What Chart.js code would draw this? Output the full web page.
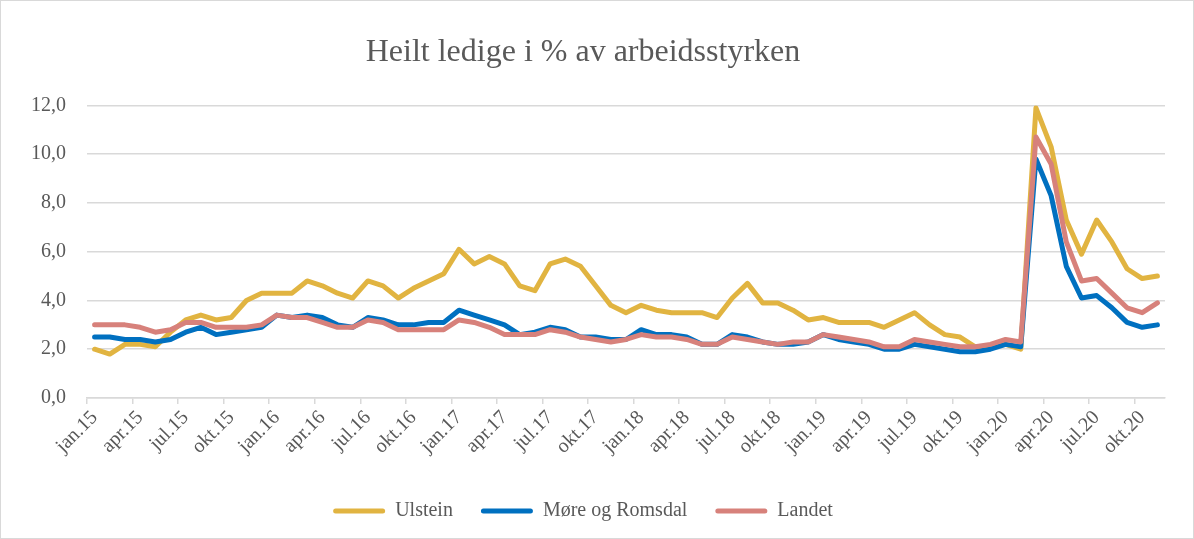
<!DOCTYPE html>
<html>
<head>
<meta charset="utf-8">
<script src="https://cdn.jsdelivr.net/npm/chart.js@4"></script>
<style>
    body { margin: 0; background: #fff; }
    #wrap { width: 1194px; height: 539px; box-sizing: border-box; border: 1px solid #d9d9d9; }
</style>
</head>
<body>
<div id="wrap"><canvas id="chart" width="1192" height="537"></canvas></div>
<script>
// Month labels jan.15 .. nov.20
const monthNames = ['jan', 'feb', 'mar', 'apr', 'mai', 'jun', 'jul', 'aug', 'sep', 'okt', 'nov', 'des'];
const years = ['15', '16', '17', '18', '19', '20'];
const categories = [];
years.forEach(y => monthNames.forEach(m => categories.push(m + '.' + y)));
categories.length = 71;

const ulstein = [
    2.0, 1.8, 2.2, 2.2, 2.1, 2.7, 3.2, 3.4, 3.2, 3.3, 4.0, 4.3,
    4.3, 4.3, 4.8, 4.6, 4.3, 4.1, 4.8, 4.6, 4.1, 4.5, 4.8, 5.1,
    6.1, 5.5, 5.8, 5.5, 4.6, 4.4, 5.5, 5.7, 5.4, 4.6, 3.8, 3.5,
    3.8, 3.6, 3.5, 3.5, 3.5, 3.3, 4.1, 4.7, 3.9, 3.9, 3.6, 3.2,
    3.3, 3.1, 3.1, 3.1, 2.9, 3.2, 3.5, 3.0, 2.6, 2.5, 2.1, 2.1,
    2.2, 2.0, 11.9, 10.3, 7.3, 5.9, 7.3, 6.4, 5.3, 4.9, 5.0
];
const moreRomsdal = [
    2.5, 2.5, 2.4, 2.4, 2.3, 2.4, 2.7, 2.9, 2.6, 2.7, 2.8, 2.9,
    3.4, 3.3, 3.4, 3.3, 3.0, 2.9, 3.3, 3.2, 3.0, 3.0, 3.1, 3.1,
    3.6, 3.4, 3.2, 3.0, 2.6, 2.7, 2.9, 2.8, 2.5, 2.5, 2.4, 2.4,
    2.8, 2.6, 2.6, 2.5, 2.2, 2.2, 2.6, 2.5, 2.3, 2.2, 2.2, 2.3,
    2.6, 2.4, 2.3, 2.2, 2.0, 2.0, 2.2, 2.1, 2.0, 1.9, 1.9, 2.0,
    2.2, 2.1, 9.8, 8.3, 5.4, 4.1, 4.2, 3.7, 3.1, 2.9, 3.0
];
const landet = [
    3.0, 3.0, 3.0, 2.9, 2.7, 2.8, 3.1, 3.1, 2.9, 2.9, 2.9, 3.0,
    3.4, 3.3, 3.3, 3.1, 2.9, 2.9, 3.2, 3.1, 2.8, 2.8, 2.8, 2.8,
    3.2, 3.1, 2.9, 2.6, 2.6, 2.6, 2.8, 2.7, 2.5, 2.4, 2.3, 2.4,
    2.6, 2.5, 2.5, 2.4, 2.2, 2.2, 2.5, 2.4, 2.3, 2.2, 2.3, 2.3,
    2.6, 2.5, 2.4, 2.3, 2.1, 2.1, 2.4, 2.3, 2.2, 2.1, 2.1, 2.2,
    2.4, 2.3, 10.7, 9.6, 6.4, 4.8, 4.9, 4.3, 3.7, 3.5, 3.9
];
const seriesNames = ['Ulstein', 'Møre og Romsdal', 'Landet'];
const seriesColors = ['#E1B441', '#0070C0', '#D7817B'];

const textColor = '#595959';
const gridColor = '#d9d9d9';
const fontFamily = "'Liberation Serif', 'DejaVu Serif', serif";

const makeDataset = (i, data) => ({
    label: seriesNames[i],
    data: data,
    borderColor: seriesColors[i],
    backgroundColor: seriesColors[i],
    borderWidth: 5,
    pointRadius: 0,
    tension: 0,
    borderJoinStyle: 'round',
    borderCapStyle: 'round',
    // Landet drawn on top, Ulstein at the bottom
    order: 2 - i
});

new Chart(document.getElementById('chart'), {
    type: 'line',
    data: {
        labels: categories,
        datasets: [makeDataset(0, ulstein), makeDataset(1, moreRomsdal), makeDataset(2, landet)]
    },
    options: {
        responsive: false,
        animation: false,
        layout: { padding: { left: 0, right: 28, top: 0, bottom: 7 } },
        plugins: {
            tooltip: { enabled: false },
            title: {
                display: true,
                text: 'Heilt ledige i % av arbeidsstyrken',
                color: textColor,
                font: { family: fontFamily, size: 32, weight: 'normal' },
                padding: { top: 32, bottom: 34 }
            },
            legend: {
                position: 'bottom',
                labels: {
                    color: textColor,
                    font: { family: fontFamily, size: 20 },
                    boxWidth: 52,
                    boxHeight: 5,
                    padding: 28,
                    generateLabels: chart => chart.data.datasets.map((ds, i) => ({
                        text: ds.label,
                        fillStyle: ds.borderColor,
                        strokeStyle: ds.borderColor,
                        lineWidth: 0,
                        fontColor: textColor,
                        borderRadius: 2.5,
                        datasetIndex: i
                    }))
                }
            }
        },
        scales: {
            x: {
                offset: true,
                afterFit: scale => { scale.height = 75; },
                grid: {
                    offset: true,
                    drawOnChartArea: false,
                    drawTicks: true,
                    tickLength: 6,
                    lineWidth: 1.5,
                    tickColor: ctx => ctx.index % 3 === 0 ? gridColor : 'rgba(0,0,0,0)'
                },
                border: { display: true, color: gridColor, width: 1.5 },
                ticks: {
                    autoSkip: false,
                    minRotation: 45,
                    maxRotation: 45,
                    padding: 2,
                    color: textColor,
                    font: { family: fontFamily, size: 20 },
                    callback: (value, index) => index % 3 === 0 ? categories[index] : ''
                }
            },
            y: {
                min: 0,
                max: 12,
                afterFit: scale => { scale.width = 86; },
                grid: { color: gridColor, lineWidth: 1.5, drawTicks: false },
                border: { display: false },
                ticks: {
                    stepSize: 2,
                    padding: 21,
                    color: textColor,
                    font: { family: fontFamily, size: 20 },
                    callback: value => value.toFixed(1).replace('.', ',')
                }
            }
        }
    }
});
</script>
</body>
</html>
